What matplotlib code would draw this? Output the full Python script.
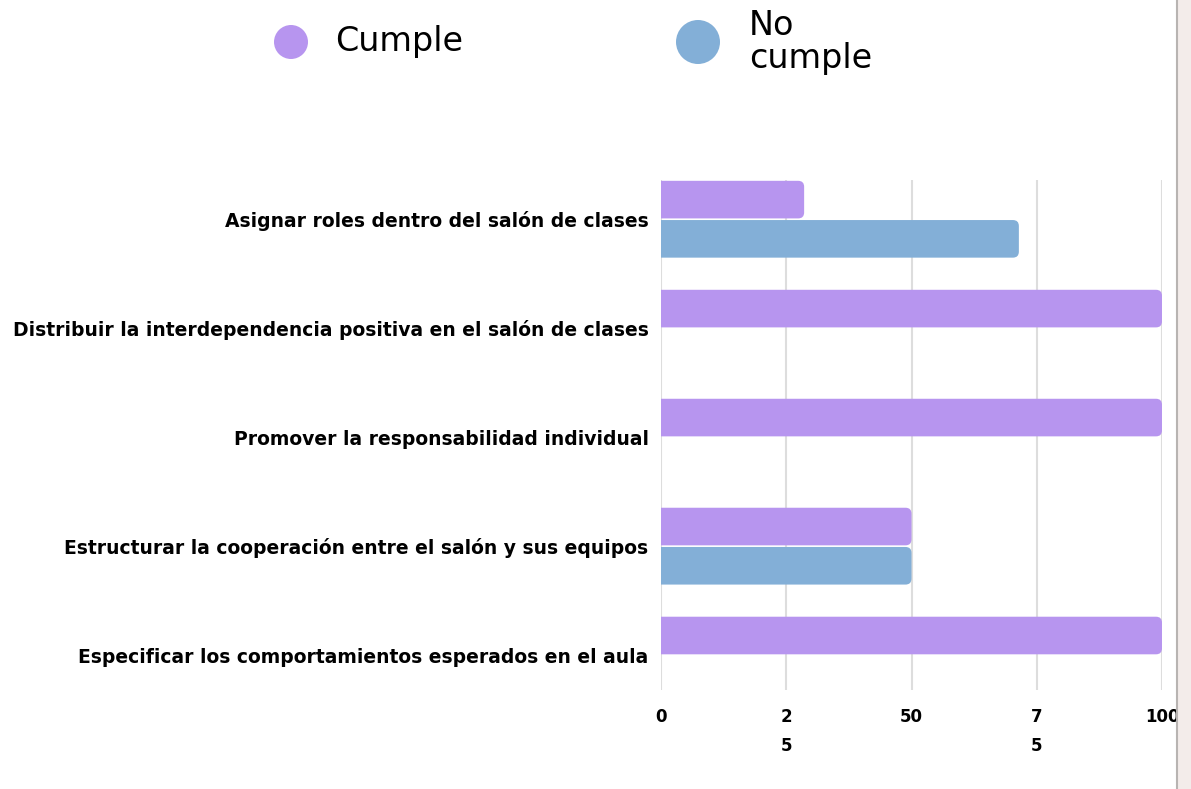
import numpy as np
import matplotlib.pyplot as plt
from matplotlib.patches import FancyBboxPatch, Ellipse

# datos
categorias = [
    'Asignar roles dentro del salón de clases',
    'Distribuir la interdependencia positiva en el salón de clases',
    'Promover la responsabilidad individual',
    'Estructurar la cooperación entre el salón y sus equipos',
    'Especificar los comportamientos esperados en el aula',
]
cumple = [28.57, 100, 100, 50, 100]
no_cumple = [71.43, 0, 0, 50, 0]
series = ['Cumple', 'No\ncumple']
ticks = [0, 25, 50, 75, 100]
tick_labels = ['0', '2\n5', '50', '7\n5', '100']

color_cumple = '#b795ef'
color_no = '#83afd7'

W, H = 1191, 789
fig = plt.figure(figsize=(W / 100, H / 100), dpi=100)
ax = fig.add_axes([661 / W, 1 - 690 / H, 501 / W, 510 / H])

y = np.arange(len(categorias))
h = 0.345
off = 0.18

# esquinas redondeadas a la derecha (~6px)
px_x = 100 / 501
px_y = 1 / 109.5
r = 6 * px_x
aspect = (6 * px_y) / r

for val, d, col in [(cumple, -off, color_cumple), (no_cumple, off, color_no)]:
    for yy, v in zip(y, val):
        if v <= 0:
            continue
        p = FancyBboxPatch((-5, yy + d - h / 2), v + 5, h,
                           boxstyle=f'round,pad=0,rounding_size={r}',
                           mutation_aspect=aspect, fc=col, ec='none', zorder=3)
        ax.add_patch(p)

ax.set_xlim(0, 100)
ax.set_ylim(4.32, -0.36)
ax.set_xticks(ticks)
ax.set_xticklabels(tick_labels, fontsize=12, fontweight='bold', linespacing=1.75,
                   va='top')
ax.set_yticks(y)
ax.set_yticklabels(categorias, fontsize=13.5, fontweight='bold')
ax.tick_params(axis='both', length=0)
ax.tick_params(axis='x', pad=13)
ax.tick_params(axis='y', pad=9)
ax.grid(axis='x', color='#dddddd', linewidth=1.5, zorder=0)
ax.set_axisbelow(True)
for s in ax.spines.values():
    s.set_visible(False)

# leyenda
fig.patches.append(Ellipse((291 / W, 1 - 42 / H), 34 / W, 34 / H, transform=fig.transFigure,
                           fc=color_cumple, ec='none'))
fig.patches.append(Ellipse((698 / W, 1 - 42 / H), 44 / W, 44 / H, transform=fig.transFigure,
                           fc=color_no, ec='none'))
fig.text(335 / W, 1 - 42 / H, series[0], fontsize=24, va='center', ha='left')
fig.text(749 / W, 1 - 42 / H, series[1], fontsize=24, va='center', ha='left',
         linespacing=0.97)

# borde derecho
fig.patches.append(plt.Rectangle((1178 / W, 0), 13 / W, 1, transform=fig.transFigure,
                                 fc='#f3ecea', ec='none'))
fig.add_artist(plt.Line2D([1177 / W, 1177 / W], [0, 1], color='#b8b4b2', lw=1.5))

fig.savefig('out.png', dpi=100)
